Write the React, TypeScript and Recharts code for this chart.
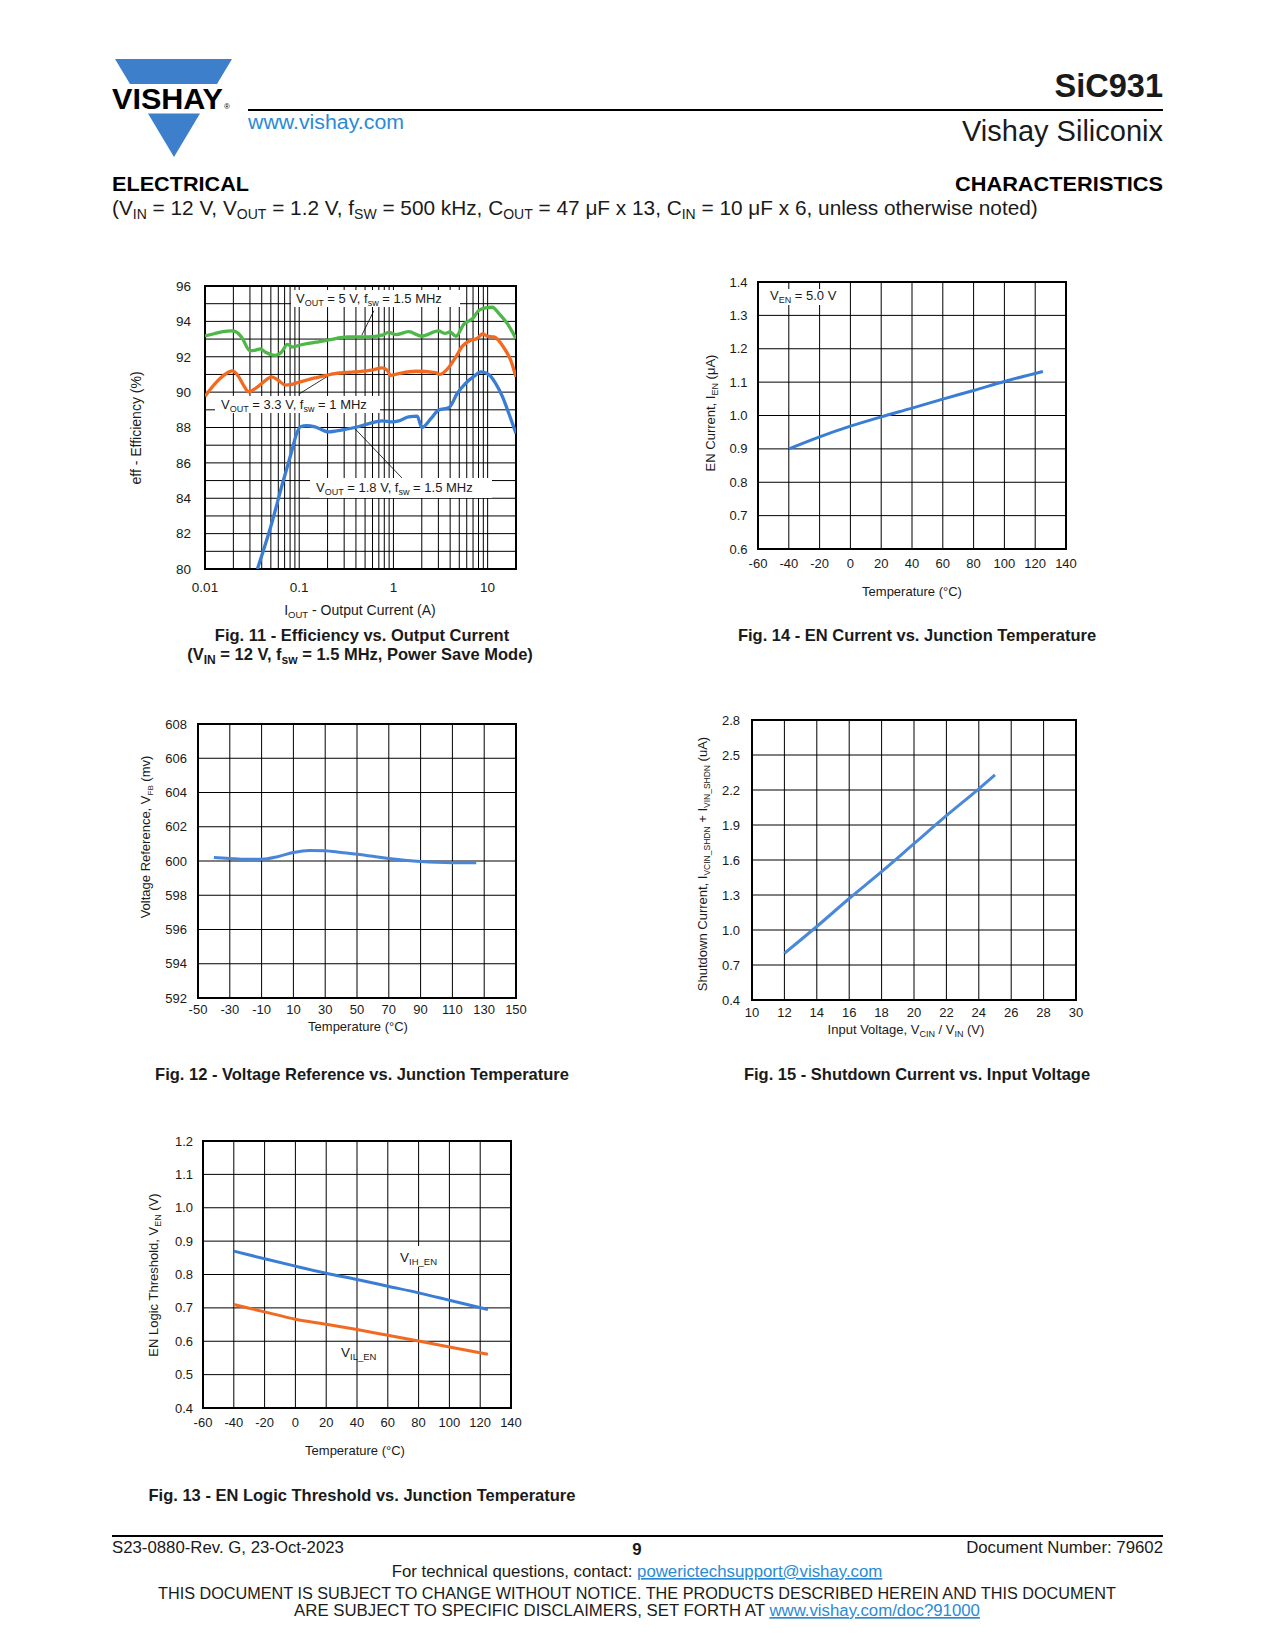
import React from 'react';
import { LineChart, Line, XAxis, YAxis, CartesianGrid, ReferenceLine, ReferenceArea } from 'recharts';

const FONT = '"Liberation Sans", Arial, Helvetica, sans-serif';
const INK = '#1a1a1a';
const BLUE = '#3A7DD4';
const ORANGE = '#F26A21';
const GREEN = '#4DB748';
const LOGO_BLUE = '#3D7FCB';
const LINK = '#2A8AD6';

// ---------- Fig. 11 : Efficiency vs output current ----------
const eff5V: [number, number][] = [
  [0.01, 93.18], [0.0125, 93.3], [0.0155, 93.42], [0.0192, 93.46], [0.0215, 93.4], [0.0245, 93.1],
  [0.03, 92.35], [0.0345, 92.38], [0.0384, 92.45], [0.044, 92.25], [0.05, 92.12], [0.056, 92.08],
  [0.065, 92.27], [0.075, 92.7], [0.085, 92.55], [0.1, 92.65], [0.15, 92.82], [0.205, 92.95],
  [0.33, 93.12], [0.55, 93.12], [0.76, 93.22], [0.89, 93.38], [1.07, 93.25], [1.45, 93.42],
  [2.0, 93.16], [3.0, 93.46], [3.5, 93.32], [4.0, 93.4], [4.6, 93.16], [5.6, 93.85], [6.9, 94.15],
  [8.1, 94.63], [9.5, 94.76], [11.2, 94.8], [13.2, 94.44], [16.2, 93.87], [20, 93.03],
];
const eff3V3: [number, number][] = [
  [0.01, 89.77], [0.0128, 90.48], [0.0163, 91.0], [0.0195, 91.2], [0.0226, 90.9], [0.0256, 90.4],
  [0.029, 90.02], [0.034, 90.2], [0.042, 90.58], [0.051, 90.86], [0.06, 90.67], [0.071, 90.4],
  [0.08, 90.42], [0.094, 90.52], [0.147, 90.8], [0.24, 91.05], [0.39, 91.14], [0.59, 91.24],
  [0.76, 91.37], [0.86, 91.24], [0.93, 90.95], [1.14, 91.05], [1.72, 91.18], [2.8, 91.1], [3.1, 91.0],
  [3.9, 91.42], [4.6, 91.99], [5.4, 92.6], [6.6, 92.93], [7.7, 93.03], [8.9, 93.3], [9.9, 93.16],
  [11.7, 93.12], [14.9, 92.5], [17.6, 91.8], [20, 90.86],
];
const eff1V8: [number, number][] = [
  [0.036, 80.0], [0.051, 82.57], [0.065, 84.65], [0.083, 86.63], [0.094, 87.66], [0.103, 88.04],
  [0.12, 88.1], [0.147, 88.04], [0.205, 87.75], [0.28, 87.85], [0.39, 88.0], [0.55, 88.22],
  [0.76, 88.38], [0.98, 88.32], [1.14, 88.38], [1.45, 88.6], [1.79, 88.64], [2.0, 88.0], [2.5, 88.5],
  [3.0, 88.98], [3.9, 89.13], [4.75, 89.92], [5.8, 90.48], [7.2, 90.9], [8.5, 91.14], [10.3, 90.99],
  [12.2, 90.48], [14.4, 89.73], [16.8, 88.79], [20, 87.66],
];
const fig11XTicks = [0.01, 0.1, 1, 10];
const fig11YTicks = [80, 81, 82, 83, 84, 85, 86, 87, 88, 89, 90, 91, 92, 93, 94, 95, 96];
const fig11VGrid = [
  0.01, 0.02, 0.03, 0.04, 0.05, 0.06, 0.07, 0.08, 0.09,
  0.1, 0.2, 0.3, 0.4, 0.5, 0.6, 0.7, 0.8, 0.9,
  1, 2, 3, 4, 5, 6, 7, 8, 9, 10, 20,
];
const leader5V: [number, number][] = [[0.62, 94.6], [0.46, 93.2]];
const leader3V3: [number, number][] = [[0.23, 91.1], [0.1, 89.9]];
const leader1V8: [number, number][] = [[0.38, 88.0], [1.23, 85.15]];

// ---------- Fig. 14 : EN current vs temperature ----------
const fig14Temp = [-40, -20, 0, 20, 40, 60, 80, 100, 125];
const fig14Ien = [0.9, 0.936, 0.968, 0.996, 1.022, 1.049, 1.075, 1.102, 1.132];
const fig14XTicks = [-60, -40, -20, 0, 20, 40, 60, 80, 100, 120, 140];
const fig14YTicks = [0.6, 0.7, 0.8, 0.9, 1.0, 1.1, 1.2, 1.3, 1.4];

// ---------- Fig. 12 : Voltage reference vs temperature ----------
const fig12Temp = [-40, -30, -20, -10, 0, 10, 20, 30, 40, 50, 60, 70, 80, 90, 100, 110, 125];
const fig12Vfb = [600.2, 600.15, 600.1, 600.1, 600.25, 600.5, 600.62, 600.6, 600.5, 600.4, 600.28, 600.15, 600.05, 599.97, 599.92, 599.9, 599.9];
const fig12XTicks = [-50, -30, -10, 10, 30, 50, 70, 90, 110, 130, 150];
const fig12YTicks = [592, 594, 596, 598, 600, 602, 604, 606, 608];

// ---------- Fig. 15 : Shutdown current vs input voltage ----------
const fig15Vin = [12, 14, 16, 18, 20, 22, 24, 25];
const fig15Ishdn = [0.8, 1.03, 1.27, 1.5, 1.74, 1.98, 2.21, 2.33];
const fig15XTicks = [10, 12, 14, 16, 18, 20, 22, 24, 26, 28, 30];
const fig15YTicks = [0.4, 0.7, 1.0, 1.3, 1.6, 1.9, 2.2, 2.5, 2.8];

// ---------- Fig. 13 : EN logic threshold vs temperature ----------
const fig13Temp = [-40, -20, 0, 20, 40, 60, 80, 100, 125];
const fig13Vih = [0.87, 0.847, 0.825, 0.804, 0.785, 0.765, 0.745, 0.723, 0.695];
const fig13Vil = [0.71, 0.688, 0.666, 0.651, 0.635, 0.618, 0.601, 0.583, 0.561];
const fig13XTicks = [-60, -40, -20, 0, 20, 40, 60, 80, 100, 120, 140];
const fig13YTicks = [0.4, 0.5, 0.6, 0.7, 0.8, 0.9, 1.0, 1.1, 1.2];

const pairs = (p: [number, number][]) => p.map(([x, y]) => ({ x, y }));
const zip = (xs: number[], ys: number[]) => xs.map((x, i) => ({ x, y: ys[i] }));

const ML = 60, MT = 14, MR = 26, XH = 40;

type FrameProps = {
  box: [number, number, number, number];
  xDomain: [number, number];
  yDomain: [number, number];
  xTicks: number[];
  yTicks: number[];
  xLog?: boolean;
  yFmt?: (v: number) => string;
  xTickMargin: number;
  yGap: number;
  vGrid?: number[];
  fs?: number;
  children?: React.ReactNode;
};

function Frame(p: FrameProps) {
  const [l, t, w, h] = p.box;
  const fs = p.fs ?? 13.5;
  const tickStyle = { fill: INK, fontSize: fs, fontFamily: FONT };
  return (
    <div style={{ position: 'absolute', left: l - ML, top: t - MT }}>
      <LineChart width={ML + w + MR} height={MT + h + XH} margin={{ top: MT, right: MR, bottom: 0, left: 0 }}>
        <CartesianGrid stroke="#000" strokeWidth={1} vertical={!p.vGrid} fill="none" />
        <XAxis
          type="number"
          dataKey="x"
          domain={p.xDomain}
          ticks={p.xTicks}
          scale={p.xLog ? 'log' : 'linear'}
          allowDataOverflow
          interval={0}
          height={XH}
          tickLine={false}
          axisLine={false}
          tickSize={0}
          tickMargin={p.xTickMargin}
          tick={tickStyle}
        />
        <YAxis
          type="number"
          dataKey="y"
          domain={p.yDomain}
          ticks={p.yTicks}
          allowDataOverflow
          interval={0}
          width={ML}
          tickLine={false}
          axisLine={false}
          tickSize={0}
          tickMargin={p.yGap}
          tickFormatter={p.yFmt}
          tick={tickStyle}
        />
        {p.vGrid ? p.vGrid.map((v) => <ReferenceLine key={'g' + v} x={v} stroke="#000" strokeWidth={1} />) : null}
        <ReferenceArea
          x1={p.xDomain[0]}
          x2={p.xDomain[1]}
          y1={p.yDomain[0]}
          y2={p.yDomain[1]}
          fill="none"
          fillOpacity={0}
          stroke="#000"
          strokeWidth={2}
        />
        {p.children}
      </LineChart>
    </div>
  );
}

type Part = string | [string];
function rich(parts: Part[], subSize: number, shift: number) {
  const out: React.ReactNode[] = [];
  let down = false;
  parts.forEach((p, i) => {
    if (Array.isArray(p)) {
      out.push(
        <tspan key={i} fontSize={subSize} dy={down ? 0 : shift}>
          {p[0]}
        </tspan>
      );
      down = true;
    } else {
      out.push(
        <tspan key={i} dy={down ? -shift : 0}>
          {p}
        </tspan>
      );
      down = false;
    }
  });
  return out;
}

function Overlay() {
  const cap = { fontFamily: FONT, fontWeight: 700, fontSize: 16.5, fill: INK, textAnchor: 'middle' as const };
  const ax = { fontFamily: FONT, fontSize: 13.5, fill: INK };
  const axMid = { ...ax, textAnchor: 'middle' as const };
  const foot = { fontFamily: FONT, fontSize: 16.8, fill: INK };
  return (
    <svg width={1275} height={1650} style={{ position: 'absolute', left: 0, top: 0, pointerEvents: 'none' }}>
      {/* logo */}
      <polygon points="115,59 232,59 217,84 130,84" fill={LOGO_BLUE} />
      <polygon points="148,113.5 200,113.5 174,157" fill={LOGO_BLUE} />
      <text x={112} y={109} fontFamily={FONT} fontWeight={700} fontSize={30} fill="#000" textLength={111} lengthAdjust="spacingAndGlyphs">
        VISHAY
      </text>
      <text x={224} y={109} fontFamily={FONT} fontSize={8} fill="#000">®</text>
      <text x={248} y={129} fontFamily={FONT} fontSize={19.5} fill={LINK} textLength={156} lengthAdjust="spacingAndGlyphs">
        www.vishay.com
      </text>
      <line x1={248} y1={110} x2={1163} y2={110} stroke="#000" strokeWidth={2} />
      <text x={1163} y={97} textAnchor="end" fontFamily={FONT} fontWeight={700} fontSize={32.5} fill={INK}>
        SiC931
      </text>
      <text x={1163} y={141} textAnchor="end" fontFamily={FONT} fontSize={29} fill={INK}>
        Vishay Siliconix
      </text>
      <text x={112} y={191} fontFamily={FONT} fontWeight={900} fontSize={20} fill="#000" textLength={137} lengthAdjust="spacingAndGlyphs">
        ELECTRICAL
      </text>
      <text x={1163} y={191} textAnchor="end" fontFamily={FONT} fontWeight={900} fontSize={20} fill="#000" textLength={208} lengthAdjust="spacingAndGlyphs">
        CHARACTERISTICS
      </text>
      <text x={112} y={215} fontFamily={FONT} fontSize={20.8} fill={INK}>
        {rich(['(V', ['IN'], ' = 12 V, V', ['OUT'], ' = 1.2 V, f', ['SW'], ' = 500 kHz, C', ['OUT'], ' = 47 μF x 13, C', ['IN'], ' = 10 μF x 6, unless otherwise noted)'], 14, 4)}
      </text>

      {/* Fig 11 */}
      <rect x={291} y={290} width={169} height={17} fill="#fff" />
      <text x={296} y={303} {...ax} fontSize={13}>
        {rich(['V', ['OUT'], ' = 5 V, f', ['sw'], ' = 1.5 MHz'], 9, 3)}
      </text>
      <rect x={215} y={396} width={165} height={17} fill="#fff" />
      <text x={221} y={409} {...ax} fontSize={13}>
        {rich(['V', ['OUT'], ' = 3.3 V, f', ['sw'], ' = 1 MHz'], 9, 3)}
      </text>
      <rect x={310} y={478} width={182} height={20} fill="#fff" />
      <text x={316} y={492} {...ax} fontSize={13}>
        {rich(['V', ['OUT'], ' = 1.8 V, f', ['sw'], ' = 1.5 MHz'], 9, 3)}
      </text>
      <text x={360} y={615} {...axMid} fontSize={14}>
        {rich(['I', ['OUT'], ' - Output Current (A)'], 9.5, 3)}
      </text>
      <text transform="translate(141,428) rotate(-90)" {...axMid} fontSize={14}>
        eff - Efficiency (%)
      </text>
      <text x={362} y={641} {...cap}>Fig. 11 - Efficiency vs. Output Current</text>
      <text x={360} y={660} {...cap}>
        {rich(['(V', ['IN'], ' = 12 V, f', ['sw'], ' = 1.5 MHz, Power Save Mode)'], 12, 3.5)}
      </text>

      {/* Fig 14 */}
      <rect x={766} y={289} width={72} height={16} fill="#fff" />
      <text x={770} y={300} {...ax} fontSize={13}>
        {rich(['V', ['EN'], ' = 5.0 V'], 9, 3)}
      </text>
      <text x={912} y={596} {...axMid} fontSize={13}>Temperature (°C)</text>
      <text transform="translate(715,413) rotate(-90)" {...axMid} fontSize={13}>
        {rich(['EN Current, I', ['EN'], ' (μA)'], 9, 3)}
      </text>
      <text x={917} y={641} {...cap}>Fig. 14 - EN Current vs. Junction Temperature</text>

      {/* Fig 12 */}
      <text x={358} y={1031} {...axMid} fontSize={13}>Temperature (°C)</text>
      <text transform="translate(150,837) rotate(-90)" {...axMid} fontSize={13}>
        {rich(['Voltage Reference, V', ['FB'], ' (mv)'], 8, 3)}
      </text>
      <text x={362} y={1080} {...cap}>Fig. 12 - Voltage Reference vs. Junction Temperature</text>

      {/* Fig 15 */}
      <text x={906} y={1034} {...axMid} fontSize={13}>
        {rich(['Input Voltage, V', ['CIN'], ' / V', ['IN'], ' (V)'], 9, 3)}
      </text>
      <text transform="translate(707,864) rotate(-90)" {...axMid} fontSize={13}>
        {rich(['Shutdown Current, I', ['VCIN_SHDN'], ' + I', ['VIN_SHDN'], ' (uA)'], 8.5, 3)}
      </text>
      <text x={917} y={1080} {...cap}>Fig. 15 - Shutdown Current vs. Input Voltage</text>

      {/* Fig 13 */}
      <rect x={397} y={1246} width={38} height={21} fill="#fff" />
      <text x={400} y={1262} {...ax} fontSize={13.5}>
        {rich(['V', ['IH_EN']], 9.5, 3)}
      </text>
      <text x={341} y={1357} {...ax} fontSize={13.5}>
        {rich(['V', ['IL_EN']], 9.5, 3)}
      </text>
      <text x={355} y={1455} {...axMid} fontSize={13}>Temperature (°C)</text>
      <text transform="translate(158,1275) rotate(-90)" {...axMid} fontSize={13}>
        {rich(['EN Logic Threshold, V', ['EN'], ' (V)'], 9, 3)}
      </text>
      <text x={362} y={1501} {...cap}>Fig. 13 - EN Logic Threshold vs. Junction Temperature</text>

      {/* footer */}
      <line x1={112} y1={1536} x2={1163} y2={1536} stroke="#000" strokeWidth={2} />
      <text x={112} y={1553} {...foot}>S23-0880-Rev. G, 23-Oct-2023</text>
      <text x={637} y={1555} {...foot} fontWeight={700} textAnchor="middle">9</text>
      <text x={1163} y={1553} {...foot} textAnchor="end">Document Number: 79602</text>
      <text x={637} y={1577} {...foot} textAnchor="middle">
        For technical questions, contact:{' '}
        <tspan fill={LINK} textDecoration="underline">powerictechsupport@vishay.com</tspan>
      </text>
      <text x={637} y={1599} {...foot} textAnchor="middle" textLength={958} lengthAdjust="spacingAndGlyphs">
        THIS DOCUMENT IS SUBJECT TO CHANGE WITHOUT NOTICE. THE PRODUCTS DESCRIBED HEREIN AND THIS DOCUMENT
      </text>
      <text x={637} y={1616} {...foot} textAnchor="middle">
        ARE SUBJECT TO SPECIFIC DISCLAIMERS, SET FORTH AT{' '}
        <tspan fill={LINK} textDecoration="underline">www.vishay.com/doc?91000</tspan>
      </text>
    </svg>
  );
}

const fmt1 = (v: number) => v.toFixed(1);

export default function App() {
  return (
    <div style={{ position: 'absolute', left: 0, top: 0, width: 1275, height: 1650, background: '#fff', fontFamily: FONT }}>
      {/* Fig 11 */}
      <Frame
        box={[205, 286, 311, 283]}
        xDomain={[0.01, 20]}
        yDomain={[80, 96]}
        xTicks={fig11XTicks}
        yTicks={fig11YTicks}
        xLog
        vGrid={fig11VGrid}
        yFmt={(v) => (v % 2 === 0 ? String(v) : '')}
        xTickMargin={13}
        yGap={14}
      >
        <ReferenceLine segment={pairs(leader5V)} stroke="#000" strokeWidth={0.8} />
        <ReferenceLine segment={pairs(leader3V3)} stroke="#000" strokeWidth={0.8} />
        <ReferenceLine segment={pairs(leader1V8)} stroke="#000" strokeWidth={0.8} />
        <Line data={pairs(eff5V)} dataKey="y" type="monotone" stroke={GREEN} strokeWidth={3.3} dot={false} isAnimationActive={false} />
        <Line data={pairs(eff3V3)} dataKey="y" type="monotone" stroke={ORANGE} strokeWidth={3.3} dot={false} isAnimationActive={false} />
        <Line data={pairs(eff1V8)} dataKey="y" type="monotone" stroke={BLUE} strokeWidth={3.3} dot={false} isAnimationActive={false} />
      </Frame>

      {/* Fig 14 */}
      <Frame
        box={[758, 282, 308, 267]}
        xDomain={[-60, 140]}
        yDomain={[0.6, 1.4]}
        xTicks={fig14XTicks}
        yTicks={fig14YTicks}
        yFmt={fmt1}
        xTickMargin={9.5}
        yGap={10.5}
        fs={13}
      >
        <Line data={zip(fig14Temp, fig14Ien)} dataKey="y" type="monotone" stroke={BLUE} strokeWidth={3} dot={false} isAnimationActive={false} />
      </Frame>

      {/* Fig 12 */}
      <Frame
        box={[198, 724, 318, 274]}
        xDomain={[-50, 150]}
        yDomain={[592, 608]}
        xTicks={fig12XTicks}
        yTicks={fig12YTicks}
        xTickMargin={7}
        yGap={11}
        fs={13}
      >
        <Line data={zip(fig12Temp, fig12Vfb)} dataKey="y" type="monotone" stroke="#4A86D8" strokeWidth={3} dot={false} isAnimationActive={false} />
      </Frame>

      {/* Fig 15 */}
      <Frame
        box={[752, 720, 324, 280]}
        xDomain={[10, 30]}
        yDomain={[0.4, 2.8]}
        xTicks={fig15XTicks}
        yTicks={fig15YTicks}
        yFmt={fmt1}
        xTickMargin={7.5}
        yGap={12}
        fs={13}
      >
        <Line data={zip(fig15Vin, fig15Ishdn)} dataKey="y" type="monotone" stroke="#4A88D9" strokeWidth={3} dot={false} isAnimationActive={false} />
      </Frame>

      {/* Fig 13 */}
      <Frame
        box={[203, 1141, 308, 267]}
        xDomain={[-60, 140]}
        yDomain={[0.4, 1.2]}
        xTicks={fig13XTicks}
        yTicks={fig13YTicks}
        yFmt={fmt1}
        xTickMargin={10}
        yGap={10}
        fs={13}
      >
        <Line data={zip(fig13Temp, fig13Vih)} dataKey="y" type="monotone" stroke={BLUE} strokeWidth={3} dot={false} isAnimationActive={false} />
        <Line data={zip(fig13Temp, fig13Vil)} dataKey="y" type="monotone" stroke={ORANGE} strokeWidth={3} dot={false} isAnimationActive={false} />
      </Frame>

      <Overlay />
    </div>
  );
}
